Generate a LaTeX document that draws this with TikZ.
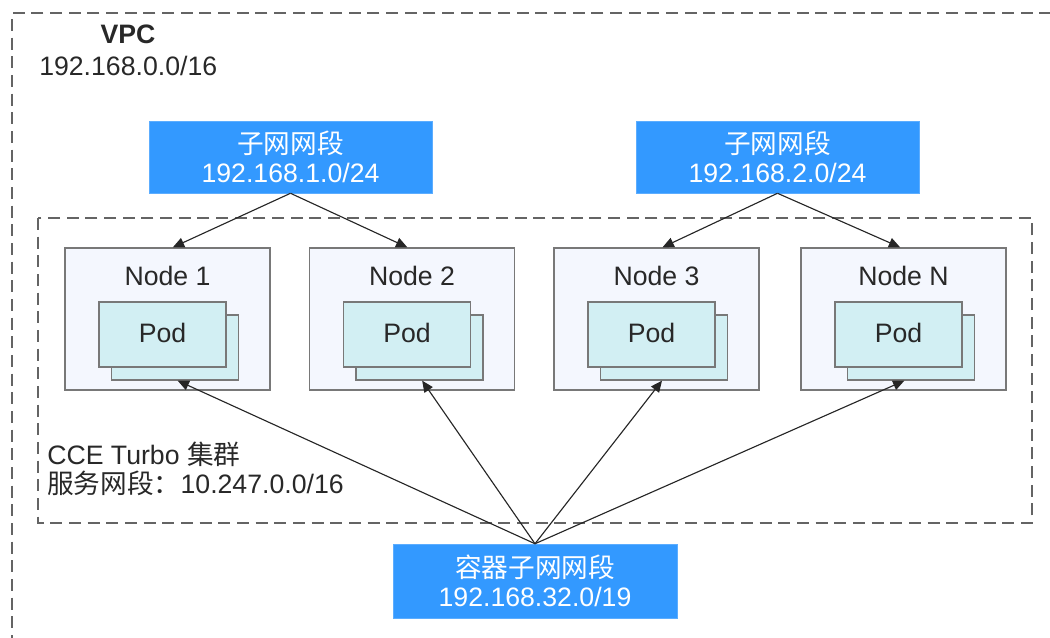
\documentclass[tikz,border=0pt]{standalone}
\usepackage{fontspec}
\setmainfont{Liberation Sans}
\newfontfamily\cjk{Noto Sans CJK SC}
\usetikzlibrary{arrows.meta}
\definecolor{bluebox}{RGB}{51,153,255}
\definecolor{nodefill}{RGB}{244,247,254}
\definecolor{podfill}{RGB}{210,239,243}
\definecolor{edgegray}{RGB}{120,120,120}
\definecolor{dashgray}{RGB}{100,100,100}
\definecolor{txt}{RGB}{40,40,40}
\tikzset{
  dashbox/.style={draw=dashgray, line width=1.1pt, dash pattern=on 9pt off 5pt},
  subnetbox/.style={fill=bluebox, draw=bluebox!80!white, line width=0.4pt, text=white,
    minimum width=212pt, minimum height=54pt, align=center, inner sep=0pt,
    font=\fontsize{20}{22}\selectfont},
  nodebox/.style={fill=nodefill, draw=edgegray, line width=1pt,
    minimum width=153.75pt, minimum height=106.5pt, inner sep=0pt},
  podbox/.style={fill=podfill, draw=edgegray, line width=1pt,
    minimum width=95.25pt, minimum height=48.75pt, inner sep=0pt, text=txt,
    font=\fontsize{20}{22}\selectfont},
  lbl/.style={inner sep=0pt, text=txt, font=\fontsize{20}{22}\selectfont},
  conn/.style={draw=black!85, line width=0.85pt, -{Triangle[length=8.5pt,width=7.5pt]}}
}
\begin{document}
\begin{tikzpicture}[x=0.75pt,y=-0.75pt]
\useasboundingbox (0,0) rectangle (1050,637);
% VPC box (extends beyond right and bottom)
\draw[dashbox] (1070,13) -- (12,13) -- (12,660);
\node[lbl, anchor=base, font=\fontsize{20}{22}\selectfont\bfseries] (vpc) at (128,43) {VPC};
\node[lbl, anchor=base west] (vpcip) at (39,75) {192.168.0.0/16};
% cluster box
\draw[dashbox] (38,218) rectangle (1032,523);
\node[lbl, anchor=base west] (cl1) at (47,464) {CCE Turbo {\cjk 集群}};
\node[lbl, anchor=base west] (cl2) at (47,493) {{\cjk 服务网段：}10.247.0.0/16};
% subnets
\node[subnetbox] (s1) at (290.5,157) {{\cjk 子网网段}\\192.168.1.0/24};
\node[subnetbox] (s2) at (777.5,157) {{\cjk 子网网段}\\192.168.2.0/24};
\node[subnetbox, minimum width=213pt, minimum height=55.5pt] (c) at (535,581) {{\cjk 容器子网网段}\\192.168.32.0/19};
% nodes
\foreach \i/\x/\t in {1/65/Node 1,2/309.5/Node 2,3/554/Node 3,4/801/Node N}{
  \node[nodebox] (n\i) at ({\x+102.5},319) {};
  \node[lbl, anchor=base] (n\i t) at ({\x+102.5},285) {\t};
  \node[podbox] (pb\i) at ({\x+110},347.5) {};
  \node[podbox] (p\i) at ({\x+97.5},334.5) {};
  \node[lbl, anchor=base] (p\i t) at ({\x+97.5},342) {Pod};
}
% subnet -> node arrows
\draw[conn] (s1.south) -- ([xshift=4pt]n1.north);
\draw[conn] (s1.south) -- ([xshift=-3.5pt]n2.north);
\draw[conn] (s2.south) -- ([xshift=4.5pt]n3.north);
\draw[conn] (s2.south) -- ([xshift=-2.5pt]n4.north);
% container -> pod arrows
\draw[conn] (c.north) -- ([xshift=2pt]pb1.south);
\draw[conn] (c.north) -- ([xshift=2pt]pb2.south);
\draw[conn] (c.north) -- ([xshift=-1.5pt]pb3.south);
\draw[conn] (c.north) -- ([xshift=-5pt]pb4.south);
\end{tikzpicture}
\end{document}
